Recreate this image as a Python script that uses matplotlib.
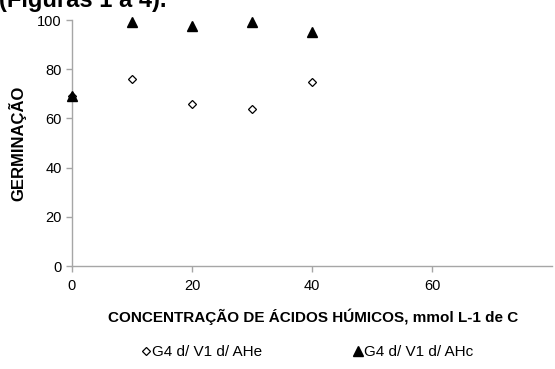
import numpy as np
import matplotlib.pyplot as plt

plt.rcParams['font.family'] = ['Liberation Sans', 'DejaVu Sans']

# concentracao de acidos humicos (mmol L-1 de C)
conc = [0, 10, 20, 30, 40]
ahe = [69, 76, 66, 64, 75]
ahc = [69, 99, 97.5, 99, 95]
labels = ['G4 d/ V1 d/ AHe', 'G4 d/ V1 d/ AHc']

fig = plt.figure(figsize=(5.55, 3.69), dpi=100)
ax = fig.add_axes([72/555, 1 - 266/369, 480/555, 246/369])

h1, = ax.plot(conc, ahe, linestyle='none', marker='D', markersize=4.5,
              markerfacecolor='white', markeredgecolor='black', markeredgewidth=0.9,
              label=labels[0], clip_on=False, zorder=3)
h2, = ax.plot(conc, ahc, linestyle='none', marker='^', markersize=6.5,
              color='black', label=labels[1], clip_on=False, zorder=4)

ax.set_xlim(0, 80)
ax.set_ylim(0, 100)
ax.set_xticks([0, 20, 40, 60])
ax.set_yticks([0, 20, 40, 60, 80, 100])

for s in ['top', 'right']:
    ax.spines[s].set_visible(False)
for s in ['left', 'bottom']:
    ax.spines[s].set_color('#a6a6a6')
    ax.spines[s].set_linewidth(1.0)
ax.tick_params(colors='#a6a6a6', labelcolor='black', labelsize=10.5, length=4, width=1.0)
ax.tick_params(axis='x', pad=5)

fig.text(17/555, 1 - 143/369, 'GERMINAÇÃO', rotation=90, ha='center', va='center',
         fontsize=12, fontweight='bold')
fig.text(313/555, 1 - 317/369, 'CONCENTRAÇÃO DE ÁCIDOS HÚMICOS, mmol L-1 de C',
         ha='center', va='center', fontsize=11, fontweight='bold')

# texto cortado no topo da figura (como no original)
fig.text(-1/555, 1 - 7/369, '(Figuras 1 a 4).', ha='left', va='baseline',
         fontsize=17, fontweight='bold')

fig.legend([h1, h2], labels, loc='center', bbox_to_anchor=(308/555, 1 - 352/369),
           ncol=2, frameon=False, fontsize=11, handlelength=0.5, handletextpad=0.15,
           columnspacing=6.0)

fig.savefig('out.png', dpi=100)
